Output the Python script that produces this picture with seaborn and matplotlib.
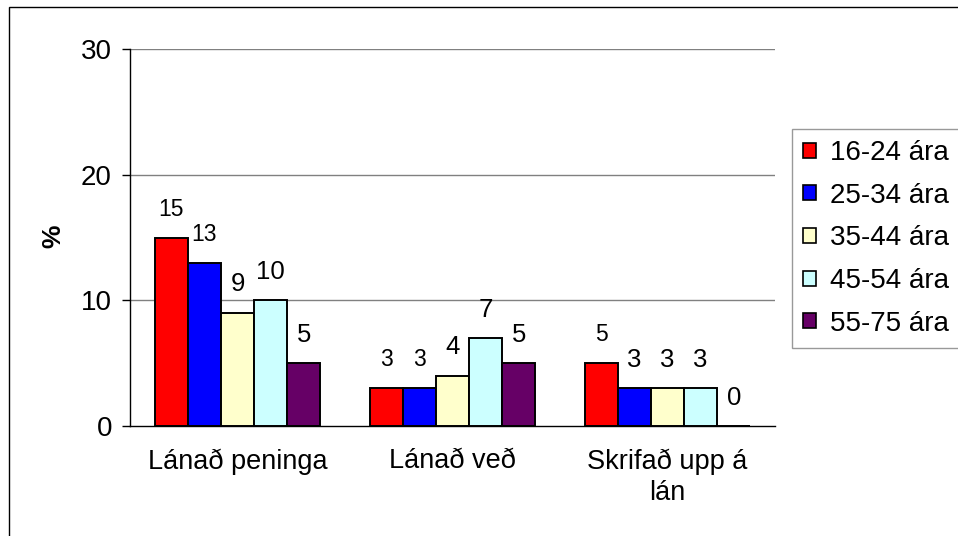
import matplotlib
matplotlib.use("Agg")
import matplotlib.pyplot as plt
from matplotlib.patches import Patch, Rectangle
import seaborn as sns
import pandas as pd

categories = ["Lánað peninga", "Lánað veð", "Skrifað upp á\nlán"]
age_groups = ["16-24 ára", "25-34 ára", "35-44 ára", "45-54 ára", "55-75 ára"]
values_16_24 = [15, 3, 5]
values_25_34 = [13, 3, 3]
values_35_44 = [9, 4, 3]
values_45_54 = [10, 7, 3]
values_55_75 = [5, 5, 0]
y_ticks = [0, 10, 20, 30]
y_label = "%"

colors = ["#FF0000", "#0000FF", "#FFFFCC", "#CCFFFF", "#660066"]

series = [values_16_24, values_25_34, values_35_44, values_45_54, values_55_75]
df = pd.DataFrame(
    [(c, g, v) for g, vals in zip(age_groups, series) for c, v in zip(categories, vals)],
    columns=["flokkur", "aldur", "hlutfall"],
)

sns.set_theme(style="white")
plt.rcParams["font.family"] = ["Liberation Sans", "DejaVu Sans"]
plt.rcParams.update({"text.color": "black", "axes.labelcolor": "black",
                     "xtick.color": "black", "ytick.color": "black"})

W, H = 958, 536
fig = plt.figure(figsize=(W / 100, H / 100), dpi=100)
fig.patch.set_facecolor("white")

# outer chart frame
fig.add_artist(Rectangle((9 / W, -0.05), 1.1, 1 - 7 / H + 0.05, transform=fig.transFigure,
                         fill=False, edgecolor="black", linewidth=1.0, clip_on=False))

ax = fig.add_axes([130 / W, 1 - 426 / H, 645 / W, 377 / H])
ax.set_facecolor("white")

sns.barplot(data=df, x="flokkur", y="hlutfall", hue="aldur", order=categories,
            hue_order=age_groups, palette=colors, width=0.77, edgecolor="black",
            linewidth=1.4, saturation=1, legend=False, ax=ax, zorder=3)

ax.set_ylim(0, 30)
ax.set_xlim(-0.5, len(categories) - 0.5)
ax.set_yticks(y_ticks)
ax.set_yticklabels([str(t) for t in y_ticks], fontsize=20, color="black")
for t in y_ticks[1:]:
    ax.axhline(t, color="#808080", linewidth=1.0, zorder=1)

# category boundary ticks below the axis
ax.set_xticks(range(len(categories)))
ax.set_xticklabels(categories, fontsize=19.5, linespacing=1.25, color="black")
ax.tick_params(axis="x", which="major", length=0, pad=16)
ax.set_xticks([i - 0.5 for i in range(len(categories) + 1)], minor=True)
ax.tick_params(axis="x", which="minor", length=5, width=1, color="black", direction="out")
ax.tick_params(axis="y", length=6, width=1, color="black", direction="out", pad=7, left=True)

for side in ["top", "right"]:
    ax.spines[side].set_visible(False)
for side in ["left", "bottom"]:
    ax.spines[side].set_color("black")
    ax.spines[side].set_linewidth(1.0)

ax.set_xlabel("")
ax.set_ylabel(y_label, fontsize=19, fontweight="bold", color="black")
ax.yaxis.set_label_coords(-0.100, 0.503)

# value labels above the bars
small_labels = {(0, 0), (1, 0), (0, 1), (1, 1), (0, 2)}
for gi, container in enumerate(ax.containers):
    for ci, bar in enumerate(container):
        val = series[gi][ci]
        size = 16.5 if (gi, ci) in small_labels else 18.5
        ax.annotate(f"{val:g}", (bar.get_x() + bar.get_width() / 2, bar.get_height()),
                    xytext=(0, 20.5), textcoords="offset points", ha="center", va="center",
                    fontsize=size, color="black", zorder=4)

handles = [Patch(facecolor=c, edgecolor="black", linewidth=1.2) for c in colors]
leg = fig.legend(handles, age_groups, loc="upper left",
                 bbox_to_anchor=(792 / W, 1 - 129 / H, 200 / W, 0.0), mode="expand",
                 fontsize=20, frameon=True, fancybox=False, borderaxespad=0,
                 handlelength=0.45, handleheight=0.45, handletextpad=0.5,
                 borderpad=0.4, labelspacing=0.6, labelcolor="black")
leg.get_frame().set_edgecolor("#808080")
leg.get_frame().set_linewidth(1.0)

fig.savefig("out.png", dpi=100, facecolor="white")
